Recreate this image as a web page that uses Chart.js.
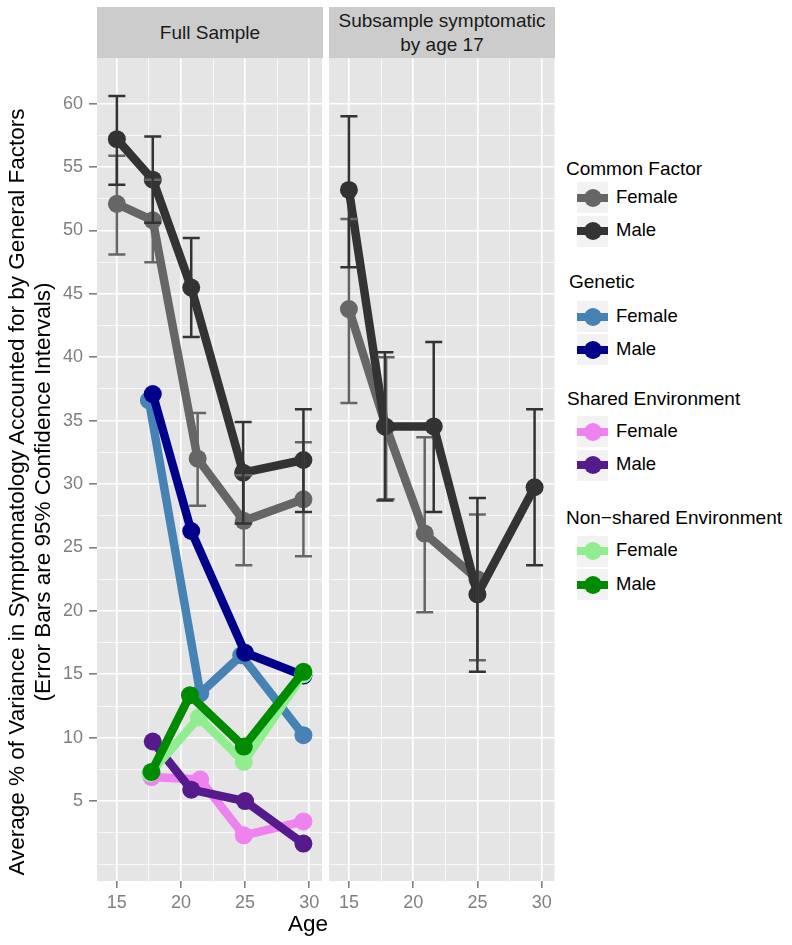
<!DOCTYPE html>
<html lang="en">
<head>
  <meta charset="UTF-8" />
  <title>Variance in Symptomatology Accounted for by General Factors</title>
  <script src="https://cdn.jsdelivr.net/npm/chart.js"></script>
  <style>
    body { margin: 0; background: #fff; font-family: 'Liberation Sans', Arial, sans-serif; }
    #wrap { position: relative; width: 792px; height: 945px; overflow: hidden; background: #fff; }
    canvas { position: absolute; top: 0; }
    .strip { position: absolute; top: 7px; height: 51px; background: #CCCCCC; color: #1A1A1A;
             font-size: 19px; line-height: 24px; display: flex; align-items: center; justify-content: center; text-align: center; }
    #ytitle { position: absolute; left: -378px; top: 464px; width: 820px; height: 56px; transform: rotate(-90deg);
              text-align: center; font-size: 22.5px; line-height: 26px; color: #000; white-space: nowrap; }
    #xtitle { position: absolute; left: 258px; top: 911px; width: 100px; text-align: center; font-size: 22.5px; line-height: 26px; color: #000; }
    .ltitle { position: absolute; font-size: 19px; line-height: 22px; color: #000; white-space: nowrap; }
    .key { position: absolute; left: 577px; width: 31px; height: 31px; background: #F2F2F2; }
    .key .kl { position: absolute; left: 0; top: 11.5px; width: 31px; height: 8px; }
    .key .kd { position: absolute; left: 6.5px; top: 6.5px; width: 18px; height: 18px; border-radius: 50%; }
    .klab { position: absolute; left: 616px; font-size: 18.5px; line-height: 22px; color: #000; }
  </style>
</head>
<body>
<div id="wrap">
  <canvas id="fullChart" width="332" height="945" style="left:0"></canvas>
  <canvas id="subChart" width="265" height="945" style="left:300px"></canvas>

  <div class="strip" style="left:97px;width:226px">Full Sample</div>
  <div class="strip" style="left:329px;width:226px">Subsample symptomatic<br>by age 17</div>

  <div id="ytitle">Average % of Variance in Symptomatology Accounted for by General Factors<br>(Error Bars are 95% Confidence Intervals)</div>
  <div id="xtitle">Age</div>

  <div id="legend"></div>
</div>

<script>
  // ticks
  const xTicks = [15, 20, 25, 30];
  const xMinor = [17.5, 22.5, 27.5];
  const yTicks = [5, 10, 15, 20, 25, 30, 35, 40, 45, 50, 55, 60];
  const yMinor = [0, 2.5, 7.5, 12.5, 17.5, 22.5, 27.5, 32.5, 37.5, 42.5, 47.5, 52.5, 57.5];

  // Full sample - common factor
  const cfFemaleAge = [15, 17.8, 21.3, 24.9, 29.55];
  const cfFemale    = [52.1, 50.8, 32.0, 27.1, 28.8];
  const cfFemaleLo  = [48.1, 47.5, 28.3, 23.6, 24.3];
  const cfFemaleHi  = [55.9, 54.0, 35.6, 30.7, 33.3];
  const cfMaleAge   = [15, 17.8, 20.8, 24.85, 29.55];
  const cfMale      = [57.2, 54.0, 45.5, 30.9, 31.9];
  const cfMaleLo    = [53.6, 50.6, 41.6, 26.9, 27.8];
  const cfMaleHi    = [60.6, 57.4, 49.4, 34.9, 35.9];

  // Full sample - genetic
  const genFemaleAge = [17.5, 21.5, 24.7, 29.55];
  const genFemale    = [36.6, 13.5, 16.5, 10.2];
  const genMaleAge   = [17.8, 20.8, 25.0, 29.55];
  const genMale      = [37.1, 26.3, 16.7, 14.9];

  // Full sample - shared environment
  const shFemaleAge = [17.7, 21.5, 24.9, 29.55];
  const shFemale    = [6.9, 6.7, 2.3, 3.4];
  const shMaleAge   = [17.8, 20.8, 25.0, 29.55];
  const shMale      = [9.7, 5.9, 5.0, 1.65];

  // Full sample - non-shared environment
  const nsFemaleAge = [17.6, 21.4, 24.9, 29.55];
  const nsFemale    = [7.2, 11.6, 8.1, 15.0];
  const nsMaleAge   = [17.7, 20.7, 24.9, 29.55];
  const nsMale      = [7.3, 13.35, 9.3, 15.2];

  // Subsample symptomatic by age 17 - common factor
  const subFemaleAge = [15, 17.9, 20.9, 25.0];
  const subFemale    = [43.8, 34.5, 26.1, 22.5];
  const subFemaleLo  = [36.4, 28.8, 19.9, 16.1];
  const subFemaleHi  = [50.9, 40.0, 33.7, 27.6];
  const subMaleAge   = [15, 17.8, 21.6, 25.0, 29.45];
  const subMale      = [53.2, 34.55, 34.55, 21.3, 29.75];
  const subMaleLo    = [47.1, 28.7, 27.8, 15.2, 23.6];
  const subMaleHi    = [59.0, 40.4, 41.2, 28.9, 35.9];

  const colors = {
    cfF: '#666666', cfM: '#333333',
    genF: '#4682B4', genM: '#00008B',
    shF: '#EE82EE', shM: '#551A8B',
    nsF: '#90EE90', nsM: '#008B00'
  };

  function pts(xs, ys) { return xs.map((x, i) => ({ x: x, y: ys[i] })); }

  function series(label, xs, ys, color, i, lo, hi) {
    return {
      label: label,
      data: pts(xs, ys),
      borderColor: color,
      backgroundColor: color,
      borderWidth: 8.5,
      borderCapStyle: 'butt',
      borderJoinStyle: 'round',
      pointRadius: 9,
      pointBorderWidth: 0,
      pointBackgroundColor: color,
      tension: 0,
      order: 20 - i,
      errLo: lo,
      errHi: hi
    };
  }

  // grey panel + error bars
  const panelPlugin = {
    id: 'panel',
    beforeDraw(chart) {
      const { ctx, chartArea: a } = chart;
      ctx.save();
      ctx.fillStyle = '#E5E5E5';
      ctx.fillRect(a.left, a.top, a.right - a.left, a.bottom - a.top);
      ctx.restore();
    },
    afterDatasetsDraw(chart) {
      const { ctx, scales: { x, y } } = chart;
      chart.data.datasets.forEach(ds => {
        if (!ds.errLo) return;
        ctx.save();
        ctx.strokeStyle = ds.borderColor;
        ctx.lineWidth = 2.5;
        ds.data.forEach((p, i) => {
          const px = x.getPixelForValue(p.x);
          const lo = y.getPixelForValue(ds.errLo[i]);
          const hi = y.getPixelForValue(ds.errHi[i]);
          ctx.beginPath();
          ctx.moveTo(px, lo); ctx.lineTo(px, hi);
          ctx.moveTo(px - 8.5, lo); ctx.lineTo(px + 8.5, lo);
          ctx.moveTo(px - 8.5, hi); ctx.lineTo(px + 8.5, hi);
          ctx.stroke();
        });
        ctx.restore();
      });
    }
  };

  const tickFont = { family: "'Liberation Sans', Arial, sans-serif", size: 18 };

  function makeOptions(leftWidth, rightPad, showY) {
    return {
      responsive: false,
      animation: false,
      layout: { padding: { top: 58, right: rightPad, left: 0, bottom: 0 } },
      plugins: { legend: { display: false }, tooltip: { enabled: false } },
      scales: {
        x: {
          type: 'linear', min: 13.45, max: 31.0,
          afterBuildTicks: s => { s.ticks = xTicks.concat(xMinor).sort((a, b) => a - b).map(v => ({ value: v })); },
          afterFit: s => { s.height = 64; },
          border: { display: false },
          grid: {
            color: '#FFFFFF',
            lineWidth: c => xTicks.includes(c.tick.value) ? 1.6 : 0.7,
            tickColor: c => xTicks.includes(c.tick.value) ? '#7F7F7F' : 'rgba(0,0,0,0)',
            tickWidth: 1.6,
            tickLength: 7
          },
          ticks: {
            color: '#7F7F7F', font: tickFont, padding: 4, maxRotation: 0, autoSkip: false,
            callback: v => xTicks.includes(v) ? String(v) : ''
          }
        },
        y: {
          type: 'linear', min: -1.3, max: 63.6,
          afterBuildTicks: s => { s.ticks = yMinor.concat(yTicks).sort((a, b) => a - b).map(v => ({ value: v })); },
          afterFit: s => { s.width = leftWidth; },
          border: { display: false },
          grid: {
            color: '#FFFFFF',
            lineWidth: c => yTicks.includes(c.tick.value) ? 1.6 : 0.7,
            tickColor: c => yTicks.includes(c.tick.value) ? '#7F7F7F' : 'rgba(0,0,0,0)',
            tickWidth: 1.6,
            tickLength: 8,
            drawTicks: showY
          },
          ticks: {
            display: showY, color: '#7F7F7F', font: tickFont, padding: 6, autoSkip: false,
            callback: v => yTicks.includes(v) ? String(v) : ''
          }
        }
      }
    };
  }

  new Chart(document.getElementById('fullChart'), {
    type: 'line',
    data: {
      datasets: [
        series('Common Factor Female', cfFemaleAge, cfFemale, colors.cfF, 0, cfFemaleLo, cfFemaleHi),
        series('Common Factor Male', cfMaleAge, cfMale, colors.cfM, 1, cfMaleLo, cfMaleHi),
        series('Genetic Female', genFemaleAge, genFemale, colors.genF, 2),
        series('Genetic Male', genMaleAge, genMale, colors.genM, 3),
        series('Shared Environment Female', shFemaleAge, shFemale, colors.shF, 4),
        series('Shared Environment Male', shMaleAge, shMale, colors.shM, 5),
        series('Non-shared Environment Female', nsFemaleAge, nsFemale, colors.nsF, 6),
        series('Non-shared Environment Male', nsMaleAge, nsMale, colors.nsM, 7)
      ]
    },
    options: makeOptions(97, 10, true),
    plugins: [panelPlugin]
  });

  new Chart(document.getElementById('subChart'), {
    type: 'line',
    data: {
      datasets: [
        series('Common Factor Female', subFemaleAge, subFemale, colors.cfF, 0, subFemaleLo, subFemaleHi),
        series('Common Factor Male', subMaleAge, subMale, colors.cfM, 1, subMaleLo, subMaleHi)
      ]
    },
    options: makeOptions(29, 10.5, false),
    plugins: [panelPlugin]
  });

  // legend (html)
  const legendGroups = [
    { title: 'Common Factor', tx: 566, ty: 169, f: colors.cfF, m: colors.cfM, fy: 197.8, my: 231.2 },
    { title: 'Genetic', tx: 569, ty: 282.3, f: colors.genF, m: colors.genM, fy: 316.7, my: 349.7 },
    { title: 'Shared Environment', tx: 567, ty: 399.3, f: colors.shF, m: colors.shM, fy: 431.7, my: 465.3 },
    { title: 'Non\u2212shared Environment', tx: 566, ty: 518, f: colors.nsF, m: colors.nsM, fy: 551, my: 584.5 }
  ];
  const legend = document.getElementById('legend');
  let html = '';
  legendGroups.forEach(g => {
    html += `<div class="ltitle" style="left:${g.tx}px;top:${g.ty - 11}px">${g.title}</div>`;
    [['Female', g.f, g.fy], ['Male', g.m, g.my]].forEach(([lab, c, cy]) => {
      html += `<div class="key" style="top:${cy - 15.5}px"><span class="kl" style="background:${c}"></span><span class="kd" style="background:${c}"></span></div>`;
      html += `<div class="klab" style="top:${cy - 12}px">${lab}</div>`;
    });
  });
  legend.innerHTML = html;
</script>
</body>
</html>
